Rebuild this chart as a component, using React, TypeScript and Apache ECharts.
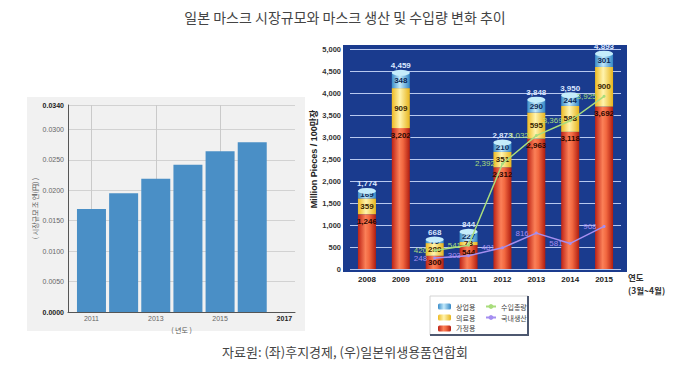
import React, { useEffect, useRef } from 'react';
import * as echarts from 'echarts';

const titleText = '일본 마스크 시장규모와 마스크 생산 및 수입량 변화 추이';
const sourceText = '자료원: (좌)후지경제, (우)일본위생용품연합회';

// Left chart: market size (조 엔)
const leftYears = [2011, 2012, 2013, 2014, 2015, 2016];
const marketSize = [0.0169, 0.0195, 0.0219, 0.0242, 0.0264, 0.0279];
const leftLabelYears = [2011, 2013, 2015, 2017];
const leftGridYears = [2011, 2013, 2015];
const leftYName = '( 시장규모 조 엔(円) )';
const leftXName = '( 년도 )';

// Right chart: production & imports (million pieces)
const rightYears = ['2008', '2009', '2010', '2011', '2012', '2013', '2014', '2015'];
const household = [1246, 3202, 300, 544, 2312, 2963, 3118, 3692];
const medical = [359, 909, 289, 73, 351, 595, 588, 900];
const commercial = [169, 348, 79, 227, 210, 290, 244, 301];
const importTotal: (number | string)[] = ['-', '-', 420, 541, 2392, 3032, 3369, 3925];
const domestic: (number | string)[] = ['-', '-', 248, 303, 481, 816, 581, 968];
const rightYName = 'Million Pieces / 100만장';
const yearNote = ['연도', '(3월~4월)'];
const barLegend = ['상업용', '의료용', '가정용'];
const lineLegend = ['수입총량', '국내생산'];

const fmt = (v: any) => String(v).replace(/\B(?=(\d{3})+(?!\d))/g, ',');

export default function App() {
  const ref = useRef<HTMLDivElement>(null);
  useEffect(() => {
    if (!ref.current) return;
    const chart = echarts.init(ref.current, undefined, { renderer: 'svg' });
    const lg = (stops: [number, string][]) =>
      new echarts.graphic.LinearGradient(0, 0, 1, 0, stops.map(([offset, color]) => ({ offset, color })));
    const redGrad = lg([[0, '#bd2216'], [0.42, '#fb8058'], [0.62, '#f26840'], [1, '#b01d10']]);
    const yellowGrad = lg([[0, '#eeba22'], [0.45, '#fff4ae'], [1, '#e7b41c']]);
    const blueGrad = lg([[0, '#3a8dca'], [0.45, '#c2e9fa'], [1, '#3486c4']]);
    const totals = household.map((h, i) => h + medical[i] + commercial[i]);
    const segLabel = (color: string, position: string) => ({
      show: true,
      position,
      distance: 3,
      color,
      fontSize: 8,
      fontWeight: 'bold',
      formatter: (p: any) => fmt(p.value),
    });
    const lineLabel = (color: string) => ({
      show: true,
      position: 'left',
      distance: 6,
      color,
      fontSize: 8,
      formatter: (p: any) => fmt(p.value),
    });
    const option: any = {
      animation: false,
      textStyle: { fontFamily: "'Liberation Sans', 'Noto Sans CJK KR', sans-serif" },
      graphic: [
        { type: 'rect', z: -10, shape: { x: 27, y: 97, width: 278, height: 234 }, style: { fill: '#f1f1f1' } },
        { type: 'rect', z: -10, shape: { x: 343, y: 45, width: 284, height: 227 }, style: { fill: '#1a3b8e' } },
        {
          type: 'text', x: 345, y: 17,
          style: { text: titleText, fill: '#444', fontSize: 14, fontFamily: 'Noto Sans CJK KR', align: 'center', verticalAlign: 'middle' },
        },
        {
          type: 'text', x: 345, y: 351,
          style: { text: sourceText, fill: '#444', fontSize: 13, fontFamily: 'Noto Sans CJK KR', align: 'center', verticalAlign: 'middle' },
        },
        {
          type: 'text', x: 628, y: 277,
          style: { text: yearNote[0], fill: '#333', fontSize: 8.5, fontWeight: 'bold', fontFamily: 'Noto Sans CJK KR', align: 'left', verticalAlign: 'middle' },
        },
        {
          type: 'text', x: 628, y: 290,
          style: { text: yearNote[1], fill: '#333', fontSize: 8.5, fontWeight: 'bold', fontFamily: 'Noto Sans CJK KR', align: 'left', verticalAlign: 'middle' },
        },
        { type: 'rect', z: 1, shape: { x: 430, y: 296, width: 98, height: 39 }, style: { fill: '#fff', stroke: '#d4d4d4', lineWidth: 1 } },
        { type: 'polyline', z: 2, shape: { points: [[528, 296], [528, 335], [430, 335]] }, style: { stroke: '#4d5870', lineWidth: 2, fill: null } },
      ],
      legend: [
        {
          data: barLegend, orient: 'vertical', left: 433, top: 298, itemWidth: 13, itemHeight: 6, itemGap: 4,
          icon: 'roundRect', textStyle: { fontSize: 7, color: '#444', fontFamily: 'Noto Sans CJK KR' },
        },
        {
          data: lineLegend, orient: 'vertical', left: 480, top: 298, itemWidth: 10, itemHeight: 6, itemGap: 4,
          textStyle: { fontSize: 7, color: '#444', fontFamily: 'Noto Sans CJK KR' },
        },
      ],
      grid: [
        { left: 68, right: 387, top: 105, bottom: 55, outerBoundsMode: 'none' },
        { left: 350, right: 61, top: 49, bottom: 98, outerBoundsMode: 'none' },
      ],
      xAxis: [
        {
          type: 'value', gridIndex: 0, min: 2010.27, max: 2017.33,
          name: leftXName, nameLocation: 'middle', nameGap: 9,
          nameTextStyle: { fontSize: 7, color: '#555', fontFamily: 'Noto Sans CJK KR' },
          axisLine: { show: true, lineStyle: { color: '#555' } },
          axisTick: { show: false, customValues: leftGridYears },
          splitLine: { show: true, lineStyle: { color: '#cacaca' } },
          axisLabel: {
            customValues: leftLabelYears, fontSize: 7, color: '#666', margin: 3,
            formatter: (v: number) => (v === 2017 ? `{b|${v}}` : String(v)),
            rich: { b: { fontSize: 7, fontWeight: 'bold', color: '#222' } },
          },
        },
        {
          type: 'category', gridIndex: 1, data: rightYears,
          axisLine: { show: false }, axisTick: { show: false },
          axisLabel: { fontSize: 8, fontWeight: 'bold', color: '#222', margin: 6 },
        },
      ],
      yAxis: [
        {
          type: 'value', gridIndex: 0, min: 0, max: 0.034, interval: 0.005,
          name: leftYName, nameLocation: 'middle', nameGap: 28,
          nameTextStyle: { fontSize: 7, color: '#555', fontFamily: 'Noto Sans CJK KR' },
          axisLine: { show: true, lineStyle: { color: '#555' } },
          axisTick: { show: false },
          splitLine: { show: true, lineStyle: { color: '#d2d2d2' } },
          axisLabel: {
            fontSize: 7, color: '#666', margin: 4, showMaxLabel: true,
            formatter: (v: number) => (v === 0 || Math.abs(v - 0.034) < 1e-9 ? `{b|${v.toFixed(4)}}` : v.toFixed(4)),
            rich: { b: { fontSize: 7, fontWeight: 'bold', color: '#222' } },
          },
        },
        {
          type: 'value', gridIndex: 1, min: 0, max: 5000, interval: 500,
          name: rightYName, nameLocation: 'middle', nameGap: 30,
          nameTextStyle: { fontSize: 9, fontWeight: 'bold', color: '#222' },
          axisLine: { show: false }, axisTick: { show: false },
          splitLine: { show: true, lineStyle: { color: '#b7c8ef', width: 1 } },
          axisLabel: { fontSize: 7.5, fontWeight: 'bold', color: '#333', margin: 9, formatter: (v: number) => fmt(v) },
        },
      ],
      series: [
        {
          type: 'bar', xAxisIndex: 0, yAxisIndex: 0, barWidth: 29,
          data: leftYears.map((y, i) => [y, marketSize[i]]),
          itemStyle: { color: '#4a8fc6' },
        },
        {
          name: '가정용', type: 'bar', xAxisIndex: 1, yAxisIndex: 1, stack: 'mask', barWidth: 18,
          data: household, itemStyle: { color: redGrad }, label: segLabel('#2a0800', 'insideTop'),
        },
        {
          name: '의료용', type: 'bar', xAxisIndex: 1, yAxisIndex: 1, stack: 'mask', barWidth: 18,
          data: medical, itemStyle: { color: yellowGrad }, label: segLabel('#3a2600', 'inside'),
        },
        {
          name: '상업용', type: 'bar', xAxisIndex: 1, yAxisIndex: 1, stack: 'mask', barWidth: 18,
          data: commercial, itemStyle: { color: blueGrad }, label: segLabel('#0b2a58', 'inside'),
        },
        {
          type: 'pictorialBar', xAxisIndex: 1, yAxisIndex: 1, z: 3,
          data: totals, symbol: 'circle', symbolSize: [18, 6], symbolPosition: 'end', symbolOffset: [0, '-50%'],
          itemStyle: { color: '#c4ecfb' },
          label: { show: true, position: 'top', distance: 0, color: '#dbe7ff', fontSize: 8, fontWeight: 'bold', formatter: (p: any) => fmt(p.value) },
        },
        {
          name: '수입총량', type: 'line', xAxisIndex: 1, yAxisIndex: 1, z: 6, data: importTotal,
          symbol: 'circle', symbolSize: 3, color: '#a9dd7c', lineStyle: { width: 1.5, color: '#a9dd7c' },
          label: lineLabel('#a9dd7c'),
        },
        {
          name: '국내생산', type: 'line', xAxisIndex: 1, yAxisIndex: 1, z: 6, data: domestic,
          symbol: 'circle', symbolSize: 3, color: '#a58ef0', lineStyle: { width: 1.5, color: '#a58ef0' },
          label: lineLabel('#a58ef0'),
        },
      ],
    };
    chart.setOption(option);
    return () => chart.dispose();
  }, []);
  return <div ref={ref} style={{ position: 'absolute', left: 0, top: 0, width: 682, height: 367 }} />;
}
